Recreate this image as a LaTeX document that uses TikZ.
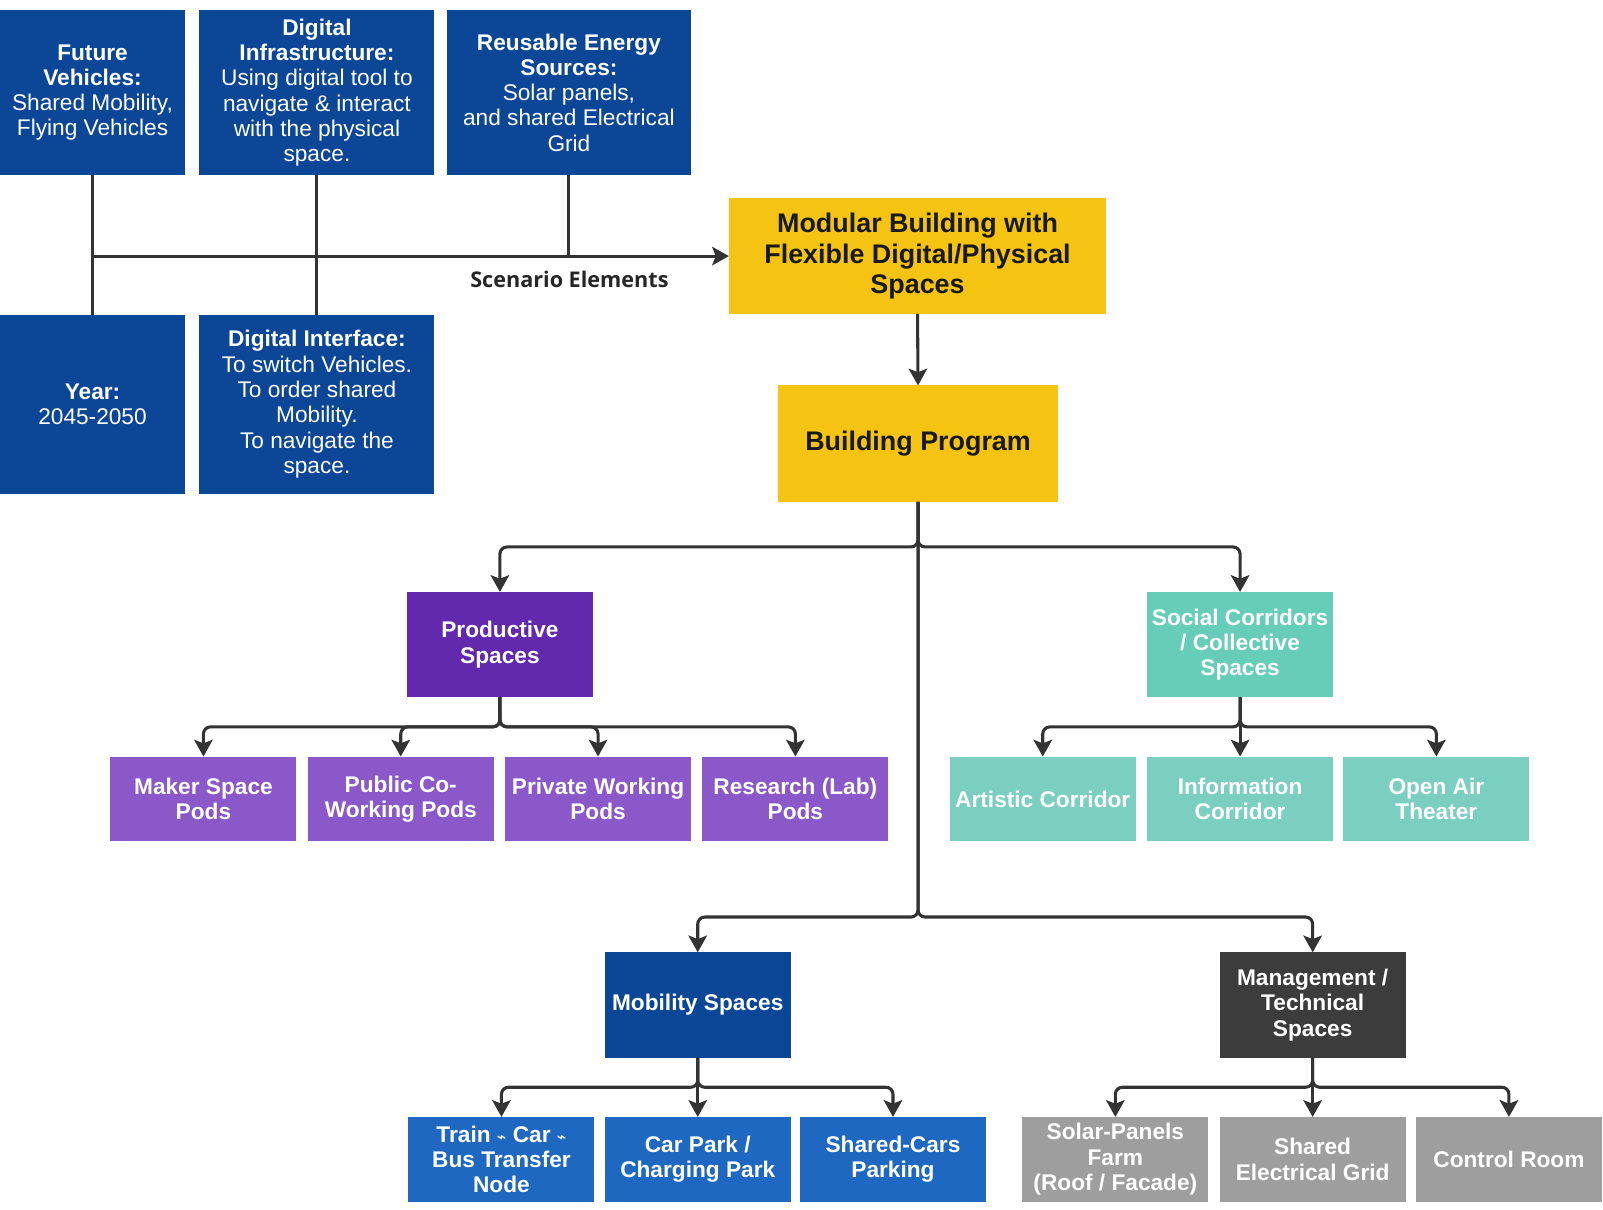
\documentclass[tikz,border=0pt]{standalone}
\usepackage{fontspec}
\setmainfont{Liberation Sans}
\newfontfamily\captionfont{Open Sans}
\newfontfamily\symbfont{DejaVu Sans}
\usetikzlibrary{arrows.meta}
\definecolor{scenblue}{HTML}{0B4697}
\definecolor{progyellow}{HTML}{F5C412}
\definecolor{prodpurple}{HTML}{6229AE}
\definecolor{podpurple}{HTML}{8A58C8}
\definecolor{socteal}{HTML}{66CDB8}
\definecolor{corrteal}{HTML}{7BCFC0}
\definecolor{mobblue}{HTML}{0B4697}
\definecolor{parkblue}{HTML}{1F68C1}
\definecolor{mgmtgray}{HTML}{3C3C3C}
\definecolor{techgray}{HTML}{9E9E9E}
\definecolor{linec}{HTML}{333333}

\tikzset{
	wh/.style 2 args={minimum width=#1*0.020446cm, minimum height=#2*0.020446cm},
	box/.style={fill=#1, text=white, align=center, inner sep=2pt, outer sep=0pt},
	scen/.style={box=scenblue, font=\fontsize{12.9}{14.4}\selectfont},
	prog/.style={box=progyellow, text=black!90, font=\fontsize{15.3}{17.4}\selectfont\bfseries},
	cat/.style={box=#1, wh={182}{103}, font=\fontsize{12.9}{14.4}\selectfont\bfseries},
	pod/.style={box=#1, wh={182}{83}, font=\fontsize{12.9}{14.4}\selectfont\bfseries},
	line/.style={draw=linec, line width=1.75pt},
	conn/.style={line, rounded corners=4pt, -{Stealth[length=9.5pt,width=10.5pt,inset=2pt]}}
}

\begin{document}
\begin{tikzpicture}[x=0.020446cm, y=-0.020446cm]
	\fill[white] (0,0) rectangle (1568,1183.4);
	% scenario elements
	\node[scen, wh={181}{161}] (fv) at (90.5,90.5) {\textbf{Future}\\\textbf{Vehicles:}\\Shared Mobility,\\Flying Vehicles};
	\node[scen, wh={230}{161}] (dinf) at (310,90.5) {\textbf{Digital}\\\textbf{Infrastructure:}\\Using digital tool to\\navigate \& interact\\with the physical\\space.};
	\node[scen, wh={239}{161}] (res) at (556.5,90.5) {\textbf{Reusable Energy}\\\textbf{Sources:}\\Solar panels,\\and shared Electrical\\Grid};
	\node[scen, wh={181}{175}] (yr) at (90.5,395.5) {\textbf{Year:}\\2045-2050};
	\node[scen, wh={230}{175}] (dint) at (310,395.5) {\textbf{Digital Interface:}\\To switch Vehicles.\\To order shared\\Mobility.\\To navigate the\\space.};
	\node[prog, wh={369}{113}] (mb) at (897.5,250.5) {Modular Building with\\Flexible Digital/Physical\\Spaces};
	\node[prog, wh={274}{114}] (bp) at (898,434) {Building Program};
	\node[font=\captionfont\fontsize{12.3}{14}\selectfont\bfseries, text=black!85] (se) at (557,273) {Scenario Elements};

	\draw[line] (fv.south) -- (yr.north);
	\draw[line] (dinf.south) -- (dint.north);
	\draw[line] (res.south) -- (res.south |- mb.west);
	\draw[conn] (fv.south |- mb.west) -- (mb.west);
	\draw[conn] (mb.south) -- (bp.north);

	% categories
	\node[cat=prodpurple] (prod) at (489,630.5) {Productive\\Spaces};
	\node[cat=socteal] (soc) at (1213,630.5) {Social Corridors\\/ Collective\\Spaces};
	\node[cat=mobblue] (mob) at (682.5,983) {Mobility Spaces};
	\node[cat=mgmtgray] (mgmt) at (1284,983) {Management /\\Technical\\Spaces};
	\draw[conn] (bp.south) -- ++(0,44) -| (prod.north);
	\draw[conn] (bp.south) -- ++(0,44) -| (soc.north);
	\draw[conn] (bp.south) -- (898,897) -| (mob.north);
	\draw[conn] (bp.south) -- (898,897) -| (mgmt.north);

	% spaces
	\foreach \n/\x/\t in {mk/199/{Maker Space\\Pods}, pc/392/{Public Co-\\Working Pods}, pv/585/{Private Working\\Pods}, rl/778/{Research (Lab)\\Pods}}{
		\node[pod=podpurple] (\n) at (\x,781.5) {\t};
		\draw[conn] (prod.south) -- ++(0,29) -| (\n.north);}
	\foreach \n/\x/\t in {art/1020/{Artistic Corridor}, inf/1213/{Information\\Corridor}, oat/1405/{Open Air\\Theater}}{
		\node[pod=corrteal] (\n) at (\x,781.5) {\t};
		\draw[conn] (soc.south) -- ++(0,29) -| (\n.north);}
	\foreach \n/\x/\t in {tr/490.5/{Train {\symbfont\small ⌁} Car {\symbfont\small ⌁}\\Bus Transfer\\Node}, cp/682.5/{Car Park /\\Charging Park}, sc/873.5/{Shared-Cars\\Parking}}{
		\node[pod=parkblue] (\n) at (\x,1134) {\t};
		\draw[conn] (mob.south) -- ++(0,29) -| (\n.north);}
	\foreach \n/\x/\t in {sp/1091/{Solar-Panels\\Farm\\(Roof / Facade)}, eg/1284/{Shared\\Electrical Grid}, cr/1476/{Control Room}}{
		\node[pod=techgray] (\n) at (\x,1134) {\t};
		\draw[conn] (mgmt.south) -- ++(0,29) -| (\n.north);}
	\pgfresetboundingbox
	\useasboundingbox (0,0) rectangle (1568,1183.4);
\end{tikzpicture}
\end{document}
